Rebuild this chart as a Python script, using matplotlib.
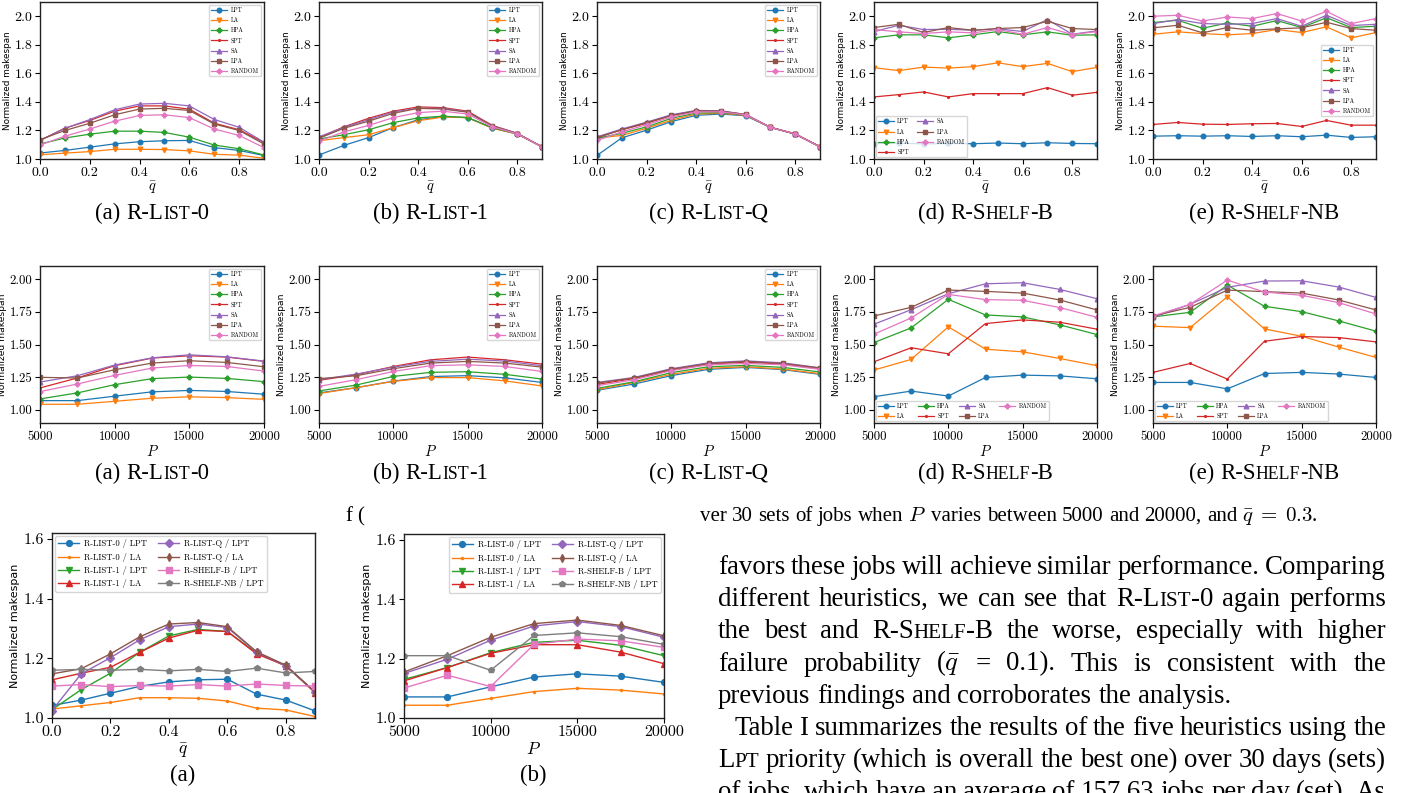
import matplotlib
matplotlib.use('Agg')
import matplotlib.pyplot as plt
from matplotlib.transforms import IdentityTransform

W, H = 1406, 793
plt.rcParams['mathtext.fontset'] = 'cm'
plt.rcParams['font.family'] = 'cmr10'
plt.rcParams['axes.unicode_minus'] = False
plt.rcParams['axes.formatter.use_mathtext'] = False

# ---------------- data ----------------
heuristics = ['LPT', 'LA', 'HPA', 'SPT', 'SA', 'LPA', 'RANDOM']
q_vals = [0.0, 0.1, 0.2, 0.3, 0.4, 0.5, 0.6, 0.7, 0.8, 0.9]
p_vals = [5000, 7500, 10000, 12500, 15000, 17500, 20000]

# normalized makespan vs q (rows: heuristics order above)
q_list0 = [
    [1.042, 1.060, 1.083, 1.106, 1.121, 1.128, 1.130, 1.080, 1.060, 1.024],
    [1.030, 1.041, 1.052, 1.068, 1.068, 1.066, 1.057, 1.033, 1.027, 1.005],
    [1.105, 1.147, 1.174, 1.195, 1.195, 1.186, 1.153, 1.098, 1.072, 1.028],
    [1.130, 1.216, 1.270, 1.335, 1.372, 1.372, 1.349, 1.251, 1.205, 1.116],
    [1.130, 1.215, 1.276, 1.345, 1.385, 1.390, 1.372, 1.277, 1.222, 1.118],
    [1.135, 1.200, 1.250, 1.310, 1.350, 1.355, 1.340, 1.245, 1.200, 1.105],
    [1.098, 1.160, 1.210, 1.265, 1.305, 1.310, 1.290, 1.210, 1.165, 1.080],
]
q_list1 = [
    [1.028, 1.095, 1.150, 1.220, 1.275, 1.297, 1.290, 1.218, 1.175, 1.087],
    [1.128, 1.150, 1.170, 1.220, 1.268, 1.294, 1.290, 1.215, 1.175, 1.085],
    [1.140, 1.170, 1.205, 1.255, 1.288, 1.300, 1.290, 1.218, 1.177, 1.085],
    [1.150, 1.225, 1.285, 1.335, 1.365, 1.360, 1.335, 1.235, 1.180, 1.085],
    [1.155, 1.222, 1.275, 1.330, 1.355, 1.355, 1.330, 1.232, 1.180, 1.085],
    [1.145, 1.215, 1.265, 1.320, 1.355, 1.350, 1.328, 1.230, 1.178, 1.085],
    [1.125, 1.190, 1.235, 1.290, 1.325, 1.335, 1.315, 1.225, 1.177, 1.085],
]
q_listq = [
    [1.025, 1.148, 1.202, 1.262, 1.306, 1.315, 1.303, 1.221, 1.175, 1.087],
    [1.148, 1.165, 1.215, 1.272, 1.315, 1.320, 1.306, 1.222, 1.177, 1.087],
    [1.145, 1.180, 1.225, 1.285, 1.322, 1.325, 1.308, 1.222, 1.175, 1.085],
    [1.150, 1.205, 1.250, 1.305, 1.335, 1.335, 1.310, 1.222, 1.175, 1.085],
    [1.155, 1.210, 1.258, 1.310, 1.340, 1.338, 1.312, 1.222, 1.175, 1.085],
    [1.150, 1.205, 1.255, 1.305, 1.338, 1.335, 1.312, 1.222, 1.175, 1.085],
    [1.130, 1.190, 1.240, 1.295, 1.330, 1.330, 1.310, 1.222, 1.175, 1.085],
]
q_shelfb = [
    [1.107, 1.112, 1.105, 1.109, 1.107, 1.112, 1.107, 1.114, 1.109, 1.107],
    [1.640, 1.619, 1.644, 1.637, 1.647, 1.674, 1.647, 1.670, 1.612, 1.642],
    [1.849, 1.870, 1.870, 1.849, 1.870, 1.893, 1.870, 1.891, 1.867, 1.870],
    [1.435, 1.451, 1.470, 1.435, 1.458, 1.458, 1.458, 1.500, 1.447, 1.467],
    [1.893, 1.937, 1.907, 1.909, 1.902, 1.912, 1.893, 1.977, 1.874, 1.898],
    [1.921, 1.944, 1.886, 1.921, 1.902, 1.914, 1.921, 1.965, 1.914, 1.907],
    [1.907, 1.891, 1.879, 1.891, 1.884, 1.907, 1.874, 1.921, 1.872, 1.893],
]
q_shelfnb = [
    [1.160, 1.163, 1.160, 1.163, 1.158, 1.163, 1.156, 1.167, 1.151, 1.156],
    [1.874, 1.891, 1.879, 1.870, 1.879, 1.907, 1.886, 1.926, 1.849, 1.886],
    [1.956, 1.972, 1.916, 1.953, 1.930, 1.970, 1.921, 1.990, 1.921, 1.930],
    [1.242, 1.256, 1.244, 1.242, 1.247, 1.249, 1.228, 1.270, 1.237, 1.237],
    [1.949, 1.977, 1.949, 1.944, 1.949, 1.984, 1.930, 2.007, 1.935, 1.944],
    [1.919, 1.937, 1.884, 1.921, 1.902, 1.912, 1.919, 1.958, 1.914, 1.902],
    [2.000, 2.007, 1.967, 1.995, 1.984, 2.019, 1.967, 2.035, 1.949, 1.984],
]

# normalized makespan vs P (q = 0.3)
p_list0 = [
    [1.071, 1.071, 1.105, 1.138, 1.149, 1.141, 1.120],
    [1.043, 1.043, 1.066, 1.089, 1.100, 1.094, 1.081],
    [1.084, 1.130, 1.193, 1.239, 1.251, 1.241, 1.216],
    [1.168, 1.244, 1.338, 1.396, 1.414, 1.404, 1.371],
    [1.213, 1.261, 1.343, 1.398, 1.421, 1.406, 1.373],
    [1.249, 1.244, 1.307, 1.358, 1.376, 1.363, 1.330],
    [1.140, 1.198, 1.264, 1.320, 1.340, 1.332, 1.297],
]
p_list1 = [
    [1.130, 1.170, 1.220, 1.255, 1.262, 1.245, 1.210],
    [1.125, 1.170, 1.218, 1.247, 1.247, 1.222, 1.183],
    [1.145, 1.190, 1.256, 1.287, 1.292, 1.272, 1.236],
    [1.226, 1.269, 1.332, 1.383, 1.404, 1.383, 1.350],
    [1.231, 1.274, 1.327, 1.371, 1.388, 1.373, 1.338],
    [1.239, 1.261, 1.315, 1.358, 1.371, 1.358, 1.327],
    [1.180, 1.231, 1.294, 1.338, 1.345, 1.332, 1.294],
]
p_listq = [
    [1.150, 1.198, 1.262, 1.310, 1.325, 1.308, 1.272],
    [1.155, 1.210, 1.272, 1.318, 1.330, 1.312, 1.277],
    [1.165, 1.215, 1.285, 1.330, 1.340, 1.325, 1.290],
    [1.195, 1.240, 1.305, 1.350, 1.365, 1.350, 1.315],
    [1.210, 1.248, 1.315, 1.360, 1.375, 1.360, 1.322],
    [1.205, 1.245, 1.310, 1.355, 1.370, 1.355, 1.320],
    [1.185, 1.230, 1.300, 1.345, 1.355, 1.345, 1.310],
]
p_shelfb = [
    [1.101, 1.144, 1.106, 1.248, 1.266, 1.260, 1.238],
    [1.305, 1.386, 1.635, 1.464, 1.444, 1.393, 1.338],
    [1.515, 1.627, 1.845, 1.726, 1.711, 1.650, 1.576],
    [1.368, 1.475, 1.429, 1.660, 1.688, 1.670, 1.617],
    [1.655, 1.766, 1.888, 1.964, 1.972, 1.921, 1.850],
    [1.718, 1.784, 1.916, 1.906, 1.893, 1.840, 1.764],
    [1.579, 1.703, 1.883, 1.843, 1.838, 1.782, 1.708],
]
p_shelfnb = [
    [1.210, 1.210, 1.161, 1.278, 1.287, 1.274, 1.248],
    [1.640, 1.629, 1.865, 1.619, 1.563, 1.480, 1.401],
    [1.711, 1.746, 1.954, 1.792, 1.751, 1.680, 1.602],
    [1.287, 1.355, 1.236, 1.525, 1.561, 1.553, 1.520],
    [1.708, 1.807, 1.937, 1.985, 1.987, 1.939, 1.860],
    [1.718, 1.784, 1.916, 1.904, 1.893, 1.840, 1.764],
    [1.718, 1.807, 1.992, 1.901, 1.876, 1.820, 1.733],
]

# small caps parts are written between « and »
algo_captions = ['(a) R-L«IST»-0', '(b) R-L«IST»-1', '(c) R-L«IST»-Q',
                 '(d) R-S«HELF»-B', '(e) R-S«HELF»-NB']
combo_labels = ['R-LIST-0 / LPT', 'R-LIST-0 / LA', 'R-LIST-1 / LPT', 'R-LIST-1 / LA',
                'R-LIST-Q / LPT', 'R-LIST-Q / LA', 'R-SHELF-B / LPT', 'R-SHELF-NB / LPT']

# ---------------- styles ----------------
h_colors = ['#1f77b4', '#ff7f0e', '#2ca02c', '#d62728', '#9467bd', '#8c564b', '#e377c2']
h_markers = ['o', 'v', 'P', '.', '^', 's', 'P']
c_colors = ['#1f77b4', '#ff7f0e', '#2ca02c', '#d62728', '#9467bd', '#8c564b', '#e377c2', '#7f7f7f']
c_markers = ['o', '.', 'v', '^', 'D', 'd', 's', 'p']

fig = plt.figure(figsize=(W / 100, H / 100), dpi=100)
fig.patch.set_facecolor('white')
renderer = fig.canvas.get_renderer()


def axes_px(x0, y0, x1, y1):
    return fig.add_axes([x0 / W, 1 - y1 / H, (x1 - x0) / W, (y1 - y0) / H])


cols = [(40, 264), (319, 542), (597, 820), (874, 1097), (1153, 1376)]
row1 = (2, 159)
row2 = (266, 423)


def style_ax(ax, tick_fs, ylab_fs, lpad=0.5):
    ax.tick_params(labelsize=tick_fs, length=3.5, width=0.8, pad=2)
    ax.set_ylabel('Normalized makespan', family='DejaVu Sans', fontsize=ylab_fs, labelpad=lpad)
    for s in ax.spines.values():
        s.set_linewidth(1.0)
        s.set_color('#222222')


LEG = dict(fontsize=4.3, labelspacing=0.72, handlelength=2.6, handletextpad=0.6)

q_sets = [q_list0, q_list1, q_listq, q_shelfb, q_shelfnb]
p_sets = [p_list0, p_list1, p_listq, p_shelfb, p_shelfnb]

for i, data in enumerate(q_sets):
    ax = axes_px(cols[i][0], row1[0], cols[i][1], row1[1])
    for k, name in enumerate(heuristics):
        ms = 2.5 if h_markers[k] == '.' else 3.3
        ax.plot(q_vals, data[k], color=h_colors[k], marker=h_markers[k], ms=ms,
                lw=0.9, label=name)
    ax.set_xlim(0, 0.9)
    ax.set_ylim(1.0, 2.1)
    ax.set_xticks([0.0, 0.2, 0.4, 0.6, 0.8])
    ax.set_yticks([1.0, 1.2, 1.4, 1.6, 1.8, 2.0])
    style_ax(ax, 10, 6.4, lpad=1.5)
    ax.set_xlabel(r'$\bar{q}$', fontsize=10.5, labelpad=1)
    if i < 3:
        ax.legend(loc='upper right', borderaxespad=0.5, **LEG)
    elif i == 3:
        ax.legend(loc='lower left', ncol=2, borderaxespad=0.3, columnspacing=1.2, **LEG)
    else:
        ax.legend(loc='center right', borderaxespad=0.5, **LEG)

for i, data in enumerate(p_sets):
    ax = axes_px(cols[i][0], row2[0], cols[i][1], row2[1])
    for k, name in enumerate(heuristics):
        ms = 2.5 if h_markers[k] == '.' else 3.3
        ax.plot(p_vals, data[k], color=h_colors[k], marker=h_markers[k], ms=ms,
                lw=0.9, label=name)
    ax.set_xlim(5000, 20000)
    ax.set_ylim(0.9, 2.1)
    ax.set_xticks([5000, 10000, 15000, 20000])
    ax.set_yticks([1.0, 1.25, 1.5, 1.75, 2.0])
    ax.set_yticklabels(['1.00', '1.25', '1.50', '1.75', '2.00'])
    style_ax(ax, 9.3, 6.6, lpad=1.5)
    ax.set_xlabel(r'$P$', fontsize=10.5, labelpad=1)
    if i < 3:
        ax.legend(loc='upper right', borderaxespad=0.5, **LEG)
    else:
        ax.legend(loc='lower left', ncol=4, borderaxespad=0.3, columnspacing=1.5, **LEG)

# ---- row 3 : comparison of combos ----
q_combo = [q_list0[0], q_list0[1], q_list1[0], q_list1[1],
           q_listq[0], q_listq[1], q_shelfb[0], q_shelfnb[0]]
p_combo = [p_list0[0], p_list0[1], p_list1[0], p_list1[1],
           p_listq[0], p_listq[1], p_shelfb[0], p_shelfnb[0]]

for j, (xv, data, rect) in enumerate([(q_vals, q_combo, (52, 533, 315, 718)),
                                      (p_vals, p_combo, (404, 534, 664, 718))]):
    ax = axes_px(*rect)
    for k, name in enumerate(combo_labels):
        m = c_markers[k]
        ms = 3.0 if m == '.' else (4.0 if m in 'Dd' else 4.2)
        ax.plot(xv, data[k], color=c_colors[k], marker=m, ms=ms, lw=1.0, label=name)
    ax.set_ylim(1.0, 1.62)
    ax.set_yticks([1.0, 1.2, 1.4, 1.6])
    if j == 0:
        ax.set_xlim(0, 0.9)
        ax.set_xticks([0.0, 0.2, 0.4, 0.6, 0.8])
        ax.set_xlabel(r'$\bar{q}$', fontsize=12.5, labelpad=1)
        loc = 'upper left'
    else:
        ax.set_xlim(5000, 20000)
        ax.set_xticks([5000, 10000, 15000, 20000])
        ax.set_xlabel(r'$P$', fontsize=12.5, labelpad=1)
        loc = 'upper right'
    style_ax(ax, 11.5, 8, lpad=3)
    ax.legend(loc=loc, ncol=2, fontsize=6.2, labelspacing=0.5, handlelength=2.4,
              borderaxespad=0.35, handletextpad=0.6, columnspacing=1.3)

# ---------------- text with small caps ----------------
SC = 0.78


def parse(word):
    runs, buf = [], ''
    for ch in word:
        if ch == '«':
            if buf:
                runs.append((buf, False))
            buf = ''
        elif ch == '»':
            runs.append((buf, True))
            buf = ''
        else:
            buf += ch
    if buf:
        runs.append((buf, False))
    return runs


def measure(s, size, family):
    t = fig.text(0, 0, s, fontsize=size, family=family, transform=IdentityTransform())
    w = t.get_window_extent(renderer).width
    t.remove()
    return w


def text_line(x0, ybase, spec, size, family='Liberation Serif', justify=None, align='left'):
    words = spec.split(' ')
    items = []
    for w in words:
        parts = []
        for txt, small in parse(w):
            fs = size * SC if small else size
            t = fig.text(0, 0, txt, fontsize=fs, family=family, va='baseline', ha='left',
                         transform=IdentityTransform())
            parts.append((t, t.get_window_extent(renderer).width))
        items.append(parts)
    wws = [sum(p[1] for p in parts) for parts in items]
    sp = measure('x x', size, family) - measure('xx', size, family)
    if justify and len(words) > 1:
        gap = (justify - sum(wws)) / (len(words) - 1)
    else:
        gap = sp
    total = sum(wws) + gap * (len(words) - 1)
    x = x0 - total / 2 if align == 'center' else x0
    for parts, ww in zip(items, wws):
        cx = x
        for t, w in parts:
            t.set_position((cx, H - ybase))
            cx += w
        x += ww + gap


def fit_size(spec, target, family='Liberation Serif'):
    w = 0
    for word in spec.split(' '):
        for txt, small in parse(word):
            w += measure(txt, 10 * (SC if small else 1), family)
    w += (measure('x x', 10, family) - measure('xx', 10, family)) * (len(spec.split(' ')) - 1)
    return 10 * target / w


cap_size = fit_size('(a) R-L«IST»-0', 114)
for i, cap in enumerate(algo_captions):
    cx = (cols[i][0] + cols[i][1]) / 2
    text_line(cx, 219, cap, cap_size, align='center')
    text_line(cx, 479, cap, cap_size, align='center')
text_line(183, 781, '(a)', cap_size, align='center')
text_line(533, 781, '(b)', cap_size, align='center')

fig_cap = r'ver 30 sets of jobs when $P$ varies between 5000 and 20000, and $\bar{q}\;=\;0.3$.'
fsz = fit_size(fig_cap, 618)
text_line(345, 521, 'f (', fsz)
text_line(700, 521, fig_cap, fsz)

body_size = fit_size('previous findings and corroborates the analysis.', 514)
L, R = 718, 1386
body = [
    ('favors these jobs will achieve similar performance. Comparing', L, True),
    ('different heuristics, we can see that R-L«IST»-0 again performs', L, True),
    ('the best and R-S«HELF»-B the worse, especially with higher', L, True),
    (r'failure probability ($\bar{q}$ = 0.1). This is consistent with the', L, True),
    ('previous findings and corroborates the analysis.', L, False),
    ('Table I summarizes the results of the five heuristics using the', 735, True),
    ('L«PT» priority (which is overall the best one) over 30 days (sets)', L, True),
    ('of jobs, which have an average of 157.63 jobs per day (set). As', L, True),
]
for n, (line, x0, just) in enumerate(body):
    yb = 574 + n * 32.2
    text_line(x0, yb, line, body_size, justify=(R - x0) if just else None)

fig.savefig('out.png', dpi=100, facecolor='white')
